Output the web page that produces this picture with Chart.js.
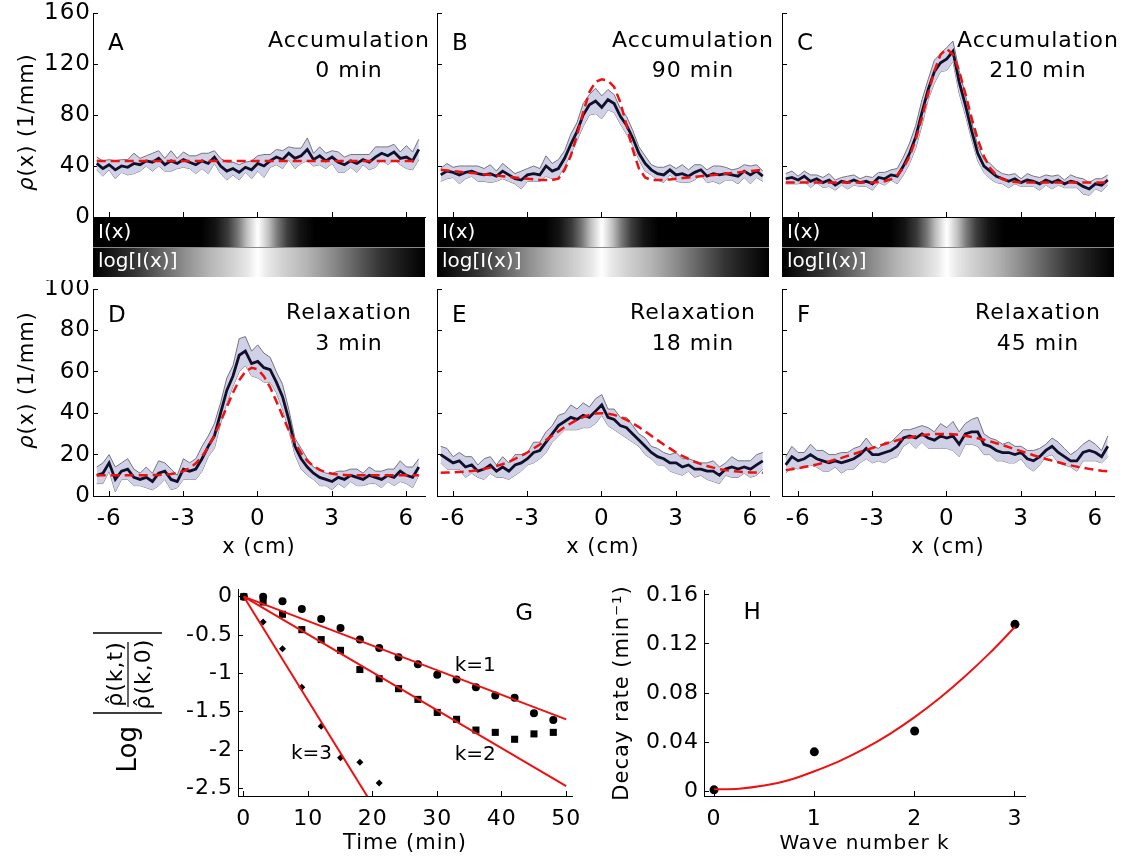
<!DOCTYPE html>
<html>
<head>
<meta charset="utf-8">
<title>Density profiles and mode decay</title>
<script src="https://cdn.jsdelivr.net/npm/chart.js@4.4.1/dist/chart.umd.min.js"></script>
<style>
  html, body { margin: 0; padding: 0; background: #fff; }
  body { position: relative; width: 1123px; height: 861px; overflow: hidden; }
  canvas { position: absolute; }
</style>
</head>
<body>
<script>
// sample positions along the channel (cm), shared by the six profiles
const xGrid = [-6.5,-6.25,-6,-5.75,-5.5,-5.25,-5,-4.75,-4.5,-4.25,-4,-3.75,-3.5,-3.25,-3,-2.75,-2.5,-2.25,-2,-1.75,-1.5,-1.25,-1,-0.75,-0.5,-0.25,0,0.25,0.5,0.75,1,1.25,1.5,1.75,2,2.25,2.5,2.75,3,3.25,3.5,3.75,4,4.25,4.5,4.75,5,5.25,5.5,5.75,6,6.25,6.5];

// A: accumulation 0 min
const meanA = [42,38,41,37,40,39,42,41,44,43,46,41,44,42,45,43,41,44,42,47,40,36,38,35,39,37,42,40,44,47,45,50,46,48,53,45,48,44,47,43,41,44,42,45,43,47,50,48,51,46,47,44,53];
const spreadA = [5,6,4,7,5,6,8,5,4,7,6,5,8,4,6,5,7,6,8,5,6,7,5,6,4,7,6,9,5,6,7,5,8,6,9,5,7,6,5,8,6,5,7,4,6,8,5,7,6,5,9,7,8];
const fitA = [44,44,44,44,44,44,44,44,44,44,44,44,44,44,44,44,44,44,44,44,44,44,44,44,44,44,44,44,44,44,44,44,44,44,44,44,44,44,44,44,44,44,44,44,44,44,44,44,44,44,44,44,44];

// B: accumulation 90 min
const meanB = [33,36,35,33,35,36,34,33,34,32,36,33,30,29,33,34,33,40,36,38,46,57,67,80,88,91,86,92,89,79,72,62,50,42,37,34,33,37,33,34,32,35,37,32,34,33,34,33,32,36,33,36,32];
const spreadB = [5,6,4,7,5,4,6,5,7,4,6,5,4,7,5,6,5,8,6,7,6,8,7,9,8,10,9,8,7,6,7,6,5,6,4,5,6,4,5,7,5,6,4,5,6,7,5,4,6,5,7,5,4];
const fitB = [37,36.5,36,35.5,35,34.5,34,33.5,33,32.5,32,31.5,31,30.5,30,29.5,29,29,29,30,37,48,64,82,98,106,108,107,102,90,72,53,38,31,29,29,29,29.5,30,30.5,31,31.5,32,32.5,33,33.5,34,34.5,35,35.5,36,36.5,37];

// C: accumulation 210 min
const meanC = [30,31,29,32,28,30,27,29,25,28,27,29,27,28,26,31,30,33,32,40,50,63,82,100,114,121,124,130,106,88,68,50,40,36,32,30,28,30,27,29,28,26,29,27,29,26,28,27,24,22,26,25,29];
const spreadC = [4,5,3,4,5,3,4,5,4,3,5,4,3,4,5,4,5,4,6,7,8,9,10,8,9,7,9,8,9,8,7,6,5,6,5,4,5,4,3,5,4,5,4,5,4,3,5,4,6,5,4,5,4];
const fitC = [27,27,27,27,27,27,27,27,27,27,27,27,27,27,27.1,27.4,28.1,29.7,32.8,38.4,47.6,60.9,77.9,96.8,114.6,127.4,132,127.4,114.6,96.8,77.9,60.9,47.6,38.4,32.8,29.7,28.1,27.4,27.1,27,27,27,27,27,27,27,27,27,27,27,27,27,27];

// D: relaxation 3 min
const meanD = [10,11,16,8,12,13,9,8,9,7,11,12,8,7,13,12,13,18,24,29,40,51,58,68,70,64,65,62,61,55,48,37,24,18,14,11,9,8,7,9,8,10,9,8,10,9,8,10,9,12,10,9,14];
const spreadD = [4,5,4,6,4,5,4,3,5,4,6,4,5,3,5,4,5,6,5,6,5,6,5,8,7,6,8,7,6,5,6,5,4,5,4,3,4,3,4,3,4,3,4,3,4,3,4,3,4,5,4,5,4];
const fitD = [10,10,10,10,10,10,10,10,10,10.1,10.2,10.4,10.6,11.1,12,13.5,15.8,19.1,23.6,29.3,35.9,43,49.9,55.9,60.1,61.9,61.2,57.8,52.5,45.8,38.7,31.8,25.8,20.8,17,14.4,12.6,11.4,10.8,10.4,10.2,10,10,10,10,10,10,10,10,10,10,10,10];

// E: relaxation 18 min
const meanE = [20,18,16,17,14,15,12,13,15,12,14,12,15,16,18,21,22,26,30,34,36,38,37,39,38,41,44,38,37,34,33,30,27,24,21,19,18,16,16,14,15,13,13,12,12,10,13,14,13,14,13,15,17];
const spreadE = [4,5,3,4,5,4,3,5,4,3,5,4,5,4,3,5,4,5,4,5,4,6,5,6,5,6,5,4,5,4,5,4,3,4,3,4,3,4,5,4,3,4,3,4,5,4,3,5,4,3,4,5,4];
const fitE = [11.2,11.3,11.4,11.6,11.8,12.1,12.5,13,13.7,14.5,15.4,16.5,17.9,19.4,21,23,24.9,27,29.1,31.2,33.3,35.1,36.8,38.1,39.2,39.8,40,39.8,39.2,38.1,36.8,35.1,33.3,31.2,29.1,27,24.9,23,21,19.4,17.9,16.5,15.4,14.5,13.7,13,12.5,12.1,11.8,11.6,11.4,11.3,11.2];

// F: relaxation 45 min
const meanF = [15,19,17,18,20,18,17,16,17,16,17,18,20,23,20,20,21,22,24,28,29,28,30,28,27,29,28,29,25,30,31,31,25,24,22,21,21,20,21,18,17,19,22,24,21,19,17,17,21,22,21,19,24];
const spreadF = [4,5,4,3,5,4,5,4,3,5,4,5,4,5,4,3,5,4,5,4,3,5,4,5,4,6,5,7,6,5,6,7,5,4,5,4,5,4,3,4,5,4,3,4,5,4,3,5,4,5,4,3,5];
const fitF = [12.5,12.9,13.4,14,14.6,15.2,16,16.7,17.6,18.4,19.4,20.3,21.3,22.3,23.2,24.2,25.1,26,26.9,27.6,28.3,28.9,29.3,29.7,29.9,30,30,29.8,29.5,29.1,28.5,27.9,27.2,26.4,25.5,24.6,23.6,22.6,21.7,20.7,19.7,18.8,17.9,17.1,16.3,15.5,14.8,14.2,13.6,13.1,12.6,12.2,11.9];

// light pattern strips under the accumulation panels (position in cm, gray level)
const linBarX = [-6.65,-2.3,-1.7,-1.2,-0.8,-0.45,-0.15,0,0.15,0.45,0.8,1.2,1.7,2.3,6.75];
const linBarGray = [0,0,20,60,120,190,235,255,235,190,120,60,20,0,0];
const logBarX = [-6.65,-6,-5,-4,-3,-2,-1,-0.4,0,0.4,1,2,3,4,5,6,6.75];
const logBarGray = [0,20,50,95,140,180,210,232,255,232,210,180,140,95,50,20,0];

// G: decay of Fourier modes
const decayTime = [0,3,6,9,12,15,18,21,24,27,30,33,36,39,42,45,48];
const modeK1 = [0,0,-0.06,-0.16,-0.29,-0.41,-0.56,-0.67,-0.79,-0.88,-1.02,-1.08,-1.18,-1.29,-1.32,-1.52,-1.61];
const modeK2 = [0,-0.07,-0.23,-0.43,-0.56,-0.7,-0.95,-1.07,-1.2,-1.34,-1.51,-1.6,-1.74,-1.77,-1.86,-1.79,-1.77];
const decayTimeK3 = [0,3,6,9,12,15,18,21];
const modeK3 = [0,-0.33,-0.68,-1.18,-1.69,-2.1,-2.16,-2.43];
const fitTime = [0,50];
const fitK1 = [0,-1.6];
const fitK2 = [0,-2.47];
const fitTimeK3 = [0,20];
const fitK3 = [0,-2.72];

// H: decay rate against wave number
const waveK = [0,1,2,3];
const decayRate = [0.001,0.032,0.049,0.136];
const curveK = [0,0.25,0.5,0.75,1,1.25,1.5,1.75,2,2.25,2.5,2.75,3];
const curveRate = [0.0015,0.002,0.0045,0.009,0.0162,0.0245,0.0346,0.0465,0.0603,0.0759,0.0934,0.1127,0.1338];

const FONT = "'DejaVu Sans', sans-serif";
Chart.defaults.font.family = FONT;
Chart.defaults.color = '#000';

const RED = '#ee1111';

// wide lettering like the original figure
const spacing = {
  id: 'spacing',
  beforeUpdate(chart) { chart.ctx.letterSpacing = '1px'; }
};

function addCanvas(left, top, w, h) {
  const c = document.createElement('canvas');
  c.width = w; c.height = h;
  c.style.left = left + 'px'; c.style.top = top + 'px';
  c.style.width = w + 'px'; c.style.height = h + 'px';
  document.body.appendChild(c);
  return c;
}

function pts(xs, ys) {
  return ys.map((y, i) => ({ x: xs[i], y: y }));
}

function inwardTicks() {
  return { display: true, drawOnChartArea: false, drawTicks: true, tickLength: -5, color: '#000', lineWidth: 1 };
}

// fixed axis boxes, no extra room for overhanging labels
function fixX(h) {
  return s => { s.height = h; s.paddingLeft = 0; s.paddingRight = 0; };
}
function fixY(w) {
  return s => { s.width = w; s.paddingTop = 0; s.paddingBottom = 0; };
}

const plainNum = v => String(Math.round(v * 1000) / 1000);

function rhoTitle(ctx, x, y) {
  ctx.save();
  ctx.translate(x, y);
  ctx.rotate(-Math.PI / 2);
  ctx.letterSpacing = '1px';
  ctx.fillStyle = '#000';
  ctx.textBaseline = 'middle';
  ctx.textAlign = 'left';
  ctx.font = `italic 21px ${FONT}`;
  const w1 = ctx.measureText('ρ').width;
  ctx.font = `21px ${FONT}`;
  const w2 = ctx.measureText('(x) (1/mm)').width;
  const u = -(w1 + w2) / 2;
  ctx.font = `italic 21px ${FONT}`;
  ctx.fillText('ρ', u, 0);
  ctx.font = `21px ${FONT}`;
  ctx.fillText('(x) (1/mm)', u + w1, 0);
  ctx.restore();
}

function profileChart(cfg) {
  const canvas = addCanvas(cfg.left, cfg.top, cfg.w, cfg.h);
  const upper = cfg.mean.map((m, i) => ({ x: xGrid[i], y: m + cfg.spread[i] }));
  const lower = cfg.mean.map((m, i) => ({ x: xGrid[i], y: m - cfg.spread[i] }));
  const top = cfg.row === 0;

  const decor = {
    id: 'decor',
    afterDraw(chart) {
      const { ctx, chartArea: a, scales: { x } } = chart;
      ctx.save();
      if (top) {
        const w = a.right - a.left;
        const grad = (stops, levels) => {
          const g = ctx.createLinearGradient(a.left, 0, a.right, 0);
          stops.forEach((v, i) => {
            const f = Math.min(1, Math.max(0, (x.getPixelForValue(v) - a.left) / w));
            const c = levels[i];
            g.addColorStop(f, `rgb(${c},${c},${c})`);
          });
          return g;
        };
        ctx.fillStyle = grad(linBarX, linBarGray);
        ctx.fillRect(a.left, a.bottom + 1, w, 29);
        ctx.fillStyle = '#8a8a8a';
        ctx.fillRect(a.left, a.bottom + 30, w, 1);
        ctx.fillStyle = grad(logBarX, logBarGray);
        ctx.fillRect(a.left, a.bottom + 31, w, 29);
        ctx.fillStyle = '#fff';
        ctx.letterSpacing = '0px';
        ctx.font = `20px ${FONT}`;
        ctx.textAlign = 'left';
        ctx.textBaseline = 'middle';
        ctx.fillText('I(x)', a.left + 5, a.bottom + 16);
        ctx.fillText('log[I(x)]', a.left + 5, a.bottom + 45);
      }
      ctx.fillStyle = '#000';
      ctx.textBaseline = 'alphabetic';
      ctx.letterSpacing = '0px';
      ctx.font = `23px ${FONT}`;
      ctx.textAlign = 'left';
      ctx.fillText(cfg.letter, a.left + 15, a.top + (top ? 37 : 33));
      ctx.letterSpacing = '1px';
      ctx.font = `22px ${FONT}`;
      ctx.textAlign = 'center';
      ctx.fillText(cfg.line1, a.left + 256, a.top + (top ? 34 : 30));
      ctx.fillText(cfg.line2, a.left + 256, a.top + (top ? 64 : 61));
      ctx.restore();
      if (cfg.yTitle) rhoTitle(ctx, 28, cfg.yTitle);
    }
  };

  new Chart(canvas, {
    type: 'line',
    data: {
      datasets: [
        { data: pts(xGrid, cfg.fit), borderColor: RED, borderWidth: 2.5, borderDash: [9, 5], pointRadius: 0, fill: false },
        { data: pts(xGrid, cfg.mean), borderColor: '#10102a', borderWidth: 2.8, pointRadius: 0, fill: false },
        { data: upper, borderColor: '#74747e', borderWidth: 1, pointRadius: 0, fill: '+1', backgroundColor: '#d0d1e7' },
        { data: lower, borderColor: '#74747e', borderWidth: 1, pointRadius: 0, fill: false }
      ]
    },
    options: {
      responsive: false,
      maintainAspectRatio: false,
      animation: false,
      events: [],
      layout: { padding: { top: cfg.padTop, right: cfg.padRight, left: 0, bottom: 0 } },
      elements: { line: { tension: 0 } },
      plugins: { legend: { display: false }, tooltip: { enabled: false } },
      scales: {
        x: {
          type: 'linear', min: -6.65, max: 6.75,
          afterFit: fixX(cfg.xh),
          ticks: { display: !top, stepSize: 3, includeBounds: false, maxRotation: 0, padding: 14, font: { size: 23 }, callback: plainNum },
          grid: inwardTicks(),
          border: { display: true, color: '#000', width: 1 },
          title: { display: !top, text: 'x (cm)', font: { size: 21 }, padding: { top: 0, bottom: 10 } }
        },
        y: {
          min: 0, max: cfg.yMax,
          afterFit: fixY(cfg.yw),
          ticks: { display: cfg.yLabels, stepSize: cfg.yStep, includeBounds: false, padding: 7, font: { size: 23 }, callback: plainNum },
          grid: inwardTicks(),
          border: { display: true, color: '#000', width: 1 }
        }
      }
    },
    plugins: [spacing, decor]
  });
}

profileChart({ left: 0, top: 0, w: 430, h: 280, row: 0, yw: 93, padTop: 13, padRight: 5, xh: 63, yMax: 160, yStep: 40, yLabels: true,
  mean: meanA, spread: spreadA, fit: fitA, letter: 'A', line1: 'Accumulation', line2: '0 min', yTitle: 122 });
profileChart({ left: 430, top: 0, w: 344, h: 280, row: 0, yw: 7, padTop: 13, padRight: 5, xh: 63, yMax: 160, yStep: 40, yLabels: false,
  mean: meanB, spread: spreadB, fit: fitB, letter: 'B', line1: 'Accumulation', line2: '90 min' });
profileChart({ left: 774, top: 0, w: 349, h: 280, row: 0, yw: 8, padTop: 13, padRight: 9, xh: 63, yMax: 160, yStep: 40, yLabels: false,
  mean: meanC, spread: spreadC, fit: fitC, letter: 'C', line1: 'Accumulation', line2: '210 min' });
profileChart({ left: 0, top: 280, w: 430, h: 290, row: 1, yw: 93, padTop: 9, padRight: 5, xh: 74, yMax: 100, yStep: 20, yLabels: true,
  mean: meanD, spread: spreadD, fit: fitD, letter: 'D', line1: 'Relaxation', line2: '3 min', yTitle: 100 });
profileChart({ left: 430, top: 280, w: 344, h: 290, row: 1, yw: 7, padTop: 9, padRight: 5, xh: 74, yMax: 100, yStep: 20, yLabels: false,
  mean: meanE, spread: spreadE, fit: fitE, letter: 'E', line1: 'Relaxation', line2: '18 min' });
profileChart({ left: 774, top: 280, w: 349, h: 290, row: 1, yw: 8, padTop: 9, padRight: 9, xh: 74, yMax: 100, yStep: 20, yLabels: false,
  mean: meanF, spread: spreadF, fit: fitF, letter: 'F', line1: 'Relaxation', line2: '45 min' });

// ---- G ----
const gDecor = {
  id: 'gDecor',
  afterDraw(chart) {
    const { ctx, scales: { x, y } } = chart;
    ctx.save();
    ctx.fillStyle = '#000';
    ctx.strokeStyle = '#000';
    ctx.letterSpacing = '0px';
    ctx.textAlign = 'center';
    ctx.textBaseline = 'middle';
    ctx.font = `23px ${FONT}`;
    ctx.fillText('G', x.getPixelForValue(43.5), y.getPixelForValue(-0.23));
    ctx.font = `20px ${FONT}`;
    ctx.fillText('k=1', x.getPixelForValue(35.9), y.getPixelForValue(-0.9));
    ctx.fillText('k=2', x.getPixelForValue(35.9), y.getPixelForValue(-2.06));
    ctx.fillText('k=3', x.getPixelForValue(10.5), y.getPixelForValue(-2.05));

    // y label: Log |rho^(k,t) / rho^(k,0)|
    ctx.translate(128, 130);
    ctx.rotate(-Math.PI / 2);
    ctx.textBaseline = 'alphabetic';
    ctx.textAlign = 'right';
    ctx.font = `26px ${FONT}`;
    ctx.fillText('Log', -26, 8);
    ctx.lineWidth = 1.5;
    ctx.beginPath();
    ctx.moveTo(-13, -35); ctx.lineTo(-13, 34);
    ctx.moveTo(67, -35); ctx.lineTo(67, 34);
    ctx.stroke();
    ctx.lineWidth = 1.2;
    ctx.beginPath();
    ctx.moveTo(-7, 0); ctx.lineTo(58, 0);
    ctx.stroke();
    ctx.textAlign = 'center';
    ctx.letterSpacing = '1px';
    ctx.font = `22px ${FONT}`;
    ctx.fillText('ρ\u0302(k,t)', 26, -6);
    ctx.fillText('ρ\u0302(k,0)', 26, 22);
    ctx.restore();
  }
};

new Chart(addCanvas(0, 570, 590, 291), {
  type: 'line',
  data: {
    datasets: [
      { data: pts(fitTime, fitK1), borderColor: RED, borderWidth: 2, pointRadius: 0, fill: false },
      { data: pts(fitTime, fitK2), borderColor: RED, borderWidth: 2, pointRadius: 0, fill: false },
      { data: pts(fitTimeK3, fitK3), borderColor: RED, borderWidth: 2, pointRadius: 0, fill: false },
      { data: pts(decayTime, modeK1), showLine: false, pointStyle: 'circle', pointRadius: 4, backgroundColor: '#000', borderColor: '#000', borderWidth: 0 },
      { data: pts(decayTime, modeK2), showLine: false, pointStyle: 'rect', pointRadius: 5, backgroundColor: '#000', borderColor: '#000', borderWidth: 0 },
      { data: pts(decayTimeK3, modeK3), showLine: false, pointStyle: 'rectRot', pointRadius: 3.5, backgroundColor: '#000', borderColor: '#000', borderWidth: 0 }
    ]
  },
  options: {
    responsive: false, maintainAspectRatio: false, animation: false, events: [],
    layout: { padding: { top: 19, right: 18, left: 0, bottom: 0 } },
    plugins: { legend: { display: false }, tooltip: { enabled: false } },
    scales: {
      x: {
        type: 'linear', min: -0.9, max: 50.9,
        afterFit: fixX(65),
        ticks: { stepSize: 10, includeBounds: false, maxRotation: 0, padding: 15, font: { size: 22 }, callback: plainNum },
        grid: inwardTicks(),
        border: { display: true, color: '#000', width: 1 },
        title: { display: true, text: 'Time (min)', font: { size: 21 }, padding: { top: 0, bottom: 5 } }
      },
      y: {
        min: -2.6, max: 0.1,
        afterFit: fixY(238),
        ticks: { stepSize: 0.5, includeBounds: false, padding: 10, font: { size: 22 }, callback: plainNum },
        grid: inwardTicks(),
        border: { display: true, color: '#000', width: 1 }
      }
    }
  },
  plugins: [spacing, gDecor]
});

// ---- H ----
const hDecor = {
  id: 'hDecor',
  afterDraw(chart) {
    const { ctx, scales: { x, y } } = chart;
    ctx.save();
    ctx.fillStyle = '#000';
    ctx.letterSpacing = '0px';
    ctx.textAlign = 'center';
    ctx.textBaseline = 'middle';
    ctx.font = `23px ${FONT}`;
    ctx.fillText('H', x.getPixelForValue(0.38), y.getPixelForValue(0.145));
    ctx.restore();
  }
};

new Chart(addCanvas(590, 570, 533, 291), {
  type: 'line',
  data: {
    datasets: [
      { data: pts(curveK, curveRate), borderColor: RED, borderWidth: 2, pointRadius: 0, fill: false, cubicInterpolationMode: 'monotone' },
      { data: pts(waveK, decayRate), showLine: false, pointStyle: 'circle', pointRadius: 4.5, backgroundColor: '#000', borderColor: '#000', borderWidth: 0 }
    ]
  },
  options: {
    responsive: false, maintainAspectRatio: false, animation: false, events: [],
    layout: { padding: { top: 20, right: 98, left: 0, bottom: 0 } },
    plugins: { legend: { display: false }, tooltip: { enabled: false } },
    scales: {
      x: {
        type: 'linear', min: -0.1, max: 3.1,
        afterFit: fixX(65),
        ticks: { stepSize: 1, includeBounds: false, maxRotation: 0, padding: 15, font: { size: 22 }, callback: plainNum },
        grid: inwardTicks(),
        border: { display: true, color: '#000', width: 1 },
        title: { display: true, text: 'Wave number k', font: { size: 20 }, padding: { top: 0, bottom: 5 } }
      },
      y: {
        min: -0.004, max: 0.164,
        afterFit: fixY(114),
        ticks: { stepSize: 0.04, includeBounds: false, padding: 10, font: { size: 22 }, callback: plainNum },
        grid: inwardTicks(),
        border: { display: true, color: '#000', width: 1 },
        title: { display: true, text: 'Decay rate (min⁻¹)', font: { size: 21 }, padding: { top: 20, bottom: 0 } }
      }
    }
  },
  plugins: [spacing, hDecor]
});
</script>
</body>
</html>
